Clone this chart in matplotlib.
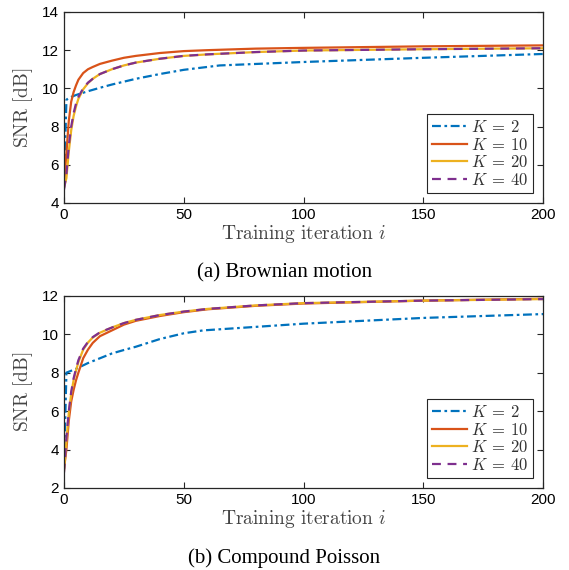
import matplotlib as mpl
import matplotlib.pyplot as plt

# SNR vs. training iteration, one panel per noise model
iters = [0, 1, 2, 3, 4, 5, 6, 8, 10, 12, 15, 20, 25, 30, 40, 50, 60, 80,
         100, 150, 200]
iters_k2_bm = [0, 1, 2, 5, 10, 15, 20, 25, 30, 40, 50, 65, 100, 150, 200]
iters_k2_cp = [0, 1, 2, 5, 10, 15, 20, 25, 30, 40, 50, 58, 100, 150, 200]

bm_k2 = [4.8, 9.4, 9.5, 9.65, 9.85, 10.03, 10.2, 10.35, 10.5, 10.75, 10.97,
         11.2, 11.38, 11.6, 11.8]
bm_k10 = [4.9, 6.6, 8.3, 9.3, 9.8, 10.15, 10.45, 10.8, 11.0, 11.12, 11.28,
          11.45, 11.6, 11.7, 11.85, 11.95, 12.0, 12.08, 12.12, 12.2, 12.25]
bm_k20 = [4.8, 5.3, 6.7, 7.8, 8.55, 9.05, 9.45, 9.95, 10.27, 10.5, 10.75,
          11.0, 11.2, 11.35, 11.55, 11.7, 11.78, 11.9, 11.98, 12.05, 12.1]
bm_k40 = [4.7, 5.5, 7.0, 8.0, 8.7, 9.2, 9.55, 10.0, 10.3, 10.5, 10.75,
          11.0, 11.2, 11.35, 11.55, 11.7, 11.78, 11.9, 11.98, 12.05, 12.1]

cp_k2 = [3.0, 8.0, 8.05, 8.2, 8.5, 8.75, 9.0, 9.18, 9.35, 9.75, 10.05, 10.2,
         10.55, 10.85, 11.05]
cp_k10 = [3.0, 4.0, 5.5, 6.5, 7.1, 7.6, 8.0, 8.75, 9.2, 9.55, 9.9, 10.2,
          10.5, 10.7, 10.95, 11.15, 11.3, 11.48, 11.6, 11.75, 11.85]
cp_k20 = [2.9, 4.4, 5.9, 6.9, 7.6, 8.1, 8.55, 9.2, 9.57, 9.83, 10.08, 10.35,
          10.58, 10.75, 11.0, 11.18, 11.32, 11.5, 11.62, 11.75, 11.83]
cp_k40 = [2.8, 4.6, 6.0, 7.0, 7.7, 8.2, 8.65, 9.25, 9.6, 9.85, 10.1, 10.35,
          10.58, 10.75, 11.0, 11.18, 11.32, 11.5, 11.62, 11.75, 11.83]

captions = ['(a) Brownian motion', '(b) Compound Poisson']
k_labels = [r'$K \:=\: 2$', r'$K \:=\: 10$', r'$K \:=\: 20$', r'$K \:=\: 40$']

blue = '#0072BD'
orange = '#D95319'
yellow = '#EDB120'
purple = '#7E2F8E'
axcol = '#262626'

mpl.rcParams['mathtext.fontset'] = 'cm'
mpl.rcParams['font.family'] = 'Liberation Sans'
mpl.rcParams['axes.edgecolor'] = axcol
mpl.rcParams['xtick.color'] = axcol
mpl.rcParams['ytick.color'] = axcol
mpl.rcParams['xtick.direction'] = 'in'
mpl.rcParams['ytick.direction'] = 'in'


def draw_panel(ax, k2_x, k2, k10, k20, k40, ylim, caption):
    lw = 1.6
    ax.plot(k2_x, k2, color=blue, lw=lw, dashes=(4, 1.6, 1.2, 1.6),
            label=k_labels[0])
    ax.plot(iters, k10, color=orange, lw=lw, label=k_labels[1])
    ax.plot(iters, k20, color=yellow, lw=lw, label=k_labels[2])
    ax.plot(iters, k40, color=purple, lw=lw, dashes=(4, 3), label=k_labels[3])

    ax.set_xlim(0, 200)
    ax.set_ylim(*ylim)
    ax.set_xticks([0, 50, 100, 150, 200])
    ax.set_yticks(range(ylim[0], ylim[1] + 1, 2))
    ax.tick_params(top=True, right=True, labelsize=11, length=4, width=0.8,
                   labelcolor='black')
    for s in ax.spines.values():
        s.set_linewidth(0.9)

    ax.set_xlabel(r'$\mathrm{Training\ iteration}\ i$', fontsize=14,
                  color='#444444', labelpad=1)
    ax.set_ylabel(r'$\mathrm{SNR\ [dB]}$', fontsize=14, color='#444444',
                  labelpad=5)

    leg = ax.legend(loc='lower right', fontsize=12, handlelength=2.1,
                    handletextpad=0.2, borderpad=0.3, labelspacing=0.1,
                    borderaxespad=0.6, fancybox=False, framealpha=1)
    leg.get_frame().set_edgecolor(axcol)
    leg.get_frame().set_linewidth(0.8)
    for t in leg.get_texts():
        t.set_color('#333333')

    ax.text(0.46, -0.365, caption, transform=ax.transAxes, ha='center',
            va='center', fontsize=15, family='Liberation Serif')


fig = plt.figure(figsize=(5.69, 5.70), dpi=100)
ax1 = fig.add_axes([0.1125, 0.644, 0.842, 0.335])
ax2 = fig.add_axes([0.1125, 0.144, 0.842, 0.337])

draw_panel(ax1, iters_k2_bm, bm_k2, bm_k10, bm_k20, bm_k40, (4, 14), captions[0])
draw_panel(ax2, iters_k2_cp, cp_k2, cp_k10, cp_k20, cp_k40, (2, 12), captions[1])

fig.savefig('out.png', dpi=100)
